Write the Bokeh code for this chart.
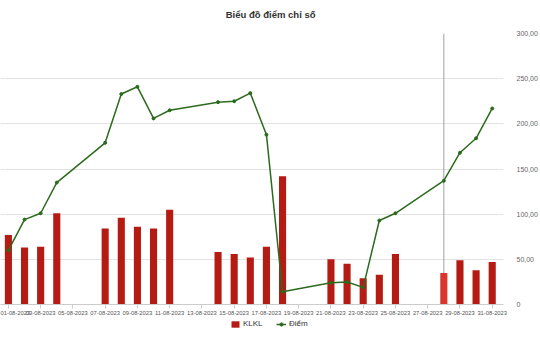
import pandas as pd
from bokeh.plotting import figure
from bokeh.layouts import column
from bokeh.models import (ColumnDataSource, Range1d, FixedTicker, DatetimeTickFormatter,
                          CustomJSTickFormatter, Span, Legend, LegendItem, Label)
from bokeh.embed import file_html
from bokeh.resources import INLINE

# ---- data ----
dates = ["2023-08-01", "2023-08-02", "2023-08-03", "2023-08-04", "2023-08-07",
         "2023-08-08", "2023-08-09", "2023-08-10", "2023-08-11", "2023-08-14",
         "2023-08-15", "2023-08-16", "2023-08-17", "2023-08-18", "2023-08-21",
         "2023-08-22", "2023-08-23", "2023-08-24", "2023-08-25", "2023-08-28",
         "2023-08-29", "2023-08-30", "2023-08-31"]
klkl = [77, 63, 64, 101, 84, 96, 86, 84, 105, 58, 56, 52, 64, 142,
        50, 45, 29, 33, 56, 35, 49, 38, 47]
diem = [60, 94, 101, 135, 179, 233, 241, 206, 215, 224, 225, 234, 188, 14,
        24, 25, 19, 93, 101, 137, 168, 184, 217]
tick_dates = ["2023-08-01", "2023-08-03", "2023-08-05", "2023-08-07", "2023-08-09",
              "2023-08-11", "2023-08-13", "2023-08-15", "2023-08-17", "2023-08-19",
              "2023-08-21", "2023-08-23", "2023-08-25", "2023-08-27", "2023-08-29",
              "2023-08-31"]
y_ticks = [0, 50, 100, 150, 200, 250, 300]
hover_date = "2023-08-28"
title_text = "Biểu đồ điểm chỉ số"
bar_label = "KLKL"
line_label = "Điểm"

FONT = "Liberation Sans"
DAY = 86400000.0
BAR = "#b51a13"
BAR_HI = "#d9362d"
LINE = "#2c6a1d"
W = 540


def ms(d):
    return pd.Timestamp(d).value / 1e6


xs = [ms(d) for d in dates]
colors = [BAR_HI if d == hover_date else BAR for d in dates]
src = ColumnDataSource(dict(x=xs, klkl=klkl, diem=diem, color=colors))

# ---- title strip ----
tf = figure(width=W, height=25, output_backend="svg", toolbar_location=None,
            x_range=Range1d(0, W), y_range=Range1d(25, 0),
            x_axis_location=None, y_axis_location=None,
            min_border_left=0, min_border_right=0, min_border_top=0, min_border_bottom=0)
tf.outline_line_color = None
tf.grid.grid_line_color = None
tf.add_layout(Label(x=290, y=14, text=title_text, text_align="center",
                    text_baseline="middle", text_font=FONT, text_font_size="9.5px",
                    text_font_style="bold", text_color="#333333"))

# ---- main chart ----
p = figure(width=W, height=293, x_axis_type="datetime", y_axis_location="right",
           output_backend="svg", toolbar_location=None,
           x_range=Range1d(ms(dates[0]) - 0.49 * DAY, ms(dates[-1]) + 0.70 * DAY),
           y_range=Range1d(0, 300),
           min_border_left=0, min_border_right=0, min_border_top=8, min_border_bottom=14)

p.outline_line_color = None
p.xgrid.grid_line_color = None
p.ygrid.grid_line_color = "#e2e2e2"
p.ygrid.grid_line_width = 1

# hover crosshair line
p.add_layout(Span(location=ms(hover_date), dimension="height",
                  line_color="#a0a0a0", line_width=1, level="underlay"))

bars = p.vbar(x="x", top="klkl", width=0.44 * DAY, fill_color="color",
              line_color=None, source=src)
ln = p.line(x="x", y="diem", line_color=LINE, line_width=1.5, source=src)
pts = p.scatter(x="x", y="diem", size=3, fill_color=LINE, line_color=LINE, source=src)

# x axis
xa = p.xaxis[0]
xa.ticker = FixedTicker(ticks=[ms(d) for d in tick_dates], minor_ticks=[])
xa.formatter = DatetimeTickFormatter(days="%d-%m-%Y", months="%d-%m-%Y",
                                     hours="%d-%m-%Y", years="%d-%m-%Y")
xa.axis_line_color = "#cccccc"
xa.major_tick_line_color = "#cccccc"
xa.major_tick_in = 0
xa.major_tick_out = 4
xa.major_label_standoff = 2
xa.major_label_text_font = FONT
xa.major_label_text_font_size = "5.8px"
xa.major_label_text_color = "#555555"

# y axis (right)
ya = p.yaxis[0]
ya.ticker = FixedTicker(ticks=y_ticks, minor_ticks=[])
ya.formatter = CustomJSTickFormatter(
    code="return tick == 0 ? '0' : tick.toFixed(2).replace('.', ',');")
ya.axis_line_color = None
ya.major_tick_line_color = None
ya.minor_tick_line_color = None
ya.major_label_standoff = 7
ya.major_label_text_font = FONT
ya.major_label_text_font_size = "7px"
ya.major_label_text_color = "#666666"

# ---- legend strip below the chart (proxy glyphs sit outside the visible range) ----
lf = figure(width=W, height=42, output_backend="svg", toolbar_location=None,
            x_range=Range1d(0, 1), y_range=Range1d(0, 1),
            x_axis_location=None, y_axis_location=None,
            min_border_left=0, min_border_right=0, min_border_top=0, min_border_bottom=0)
lf.outline_line_color = None
lf.grid.grid_line_color = None
lbar = lf.vbar(x=[-10], top=[-10], bottom=[-11], width=1, fill_color=BAR, line_color=None)
lln = lf.line(x=[-10, -9], y=[-10, -10], line_color=LINE, line_width=1.5)
lpt = lf.scatter(x=[-10], y=[-10], size=3, fill_color=LINE, line_color=LINE)
legend = Legend(items=[LegendItem(label=bar_label, renderers=[lbar]),
                       LegendItem(label=line_label, renderers=[lln, lpt])],
                orientation="horizontal", location=(230, 32),
                border_line_color=None, background_fill_alpha=0,
                glyph_width=10, glyph_height=8, label_text_font=FONT,
                label_text_font_size="8px", label_text_color="#333333",
                label_height=8, spacing=13, padding=0, margin=0, label_standoff=3)
lf.add_layout(legend)

open("out.html", "w").write(file_html(column(tf, p, lf), INLINE))
